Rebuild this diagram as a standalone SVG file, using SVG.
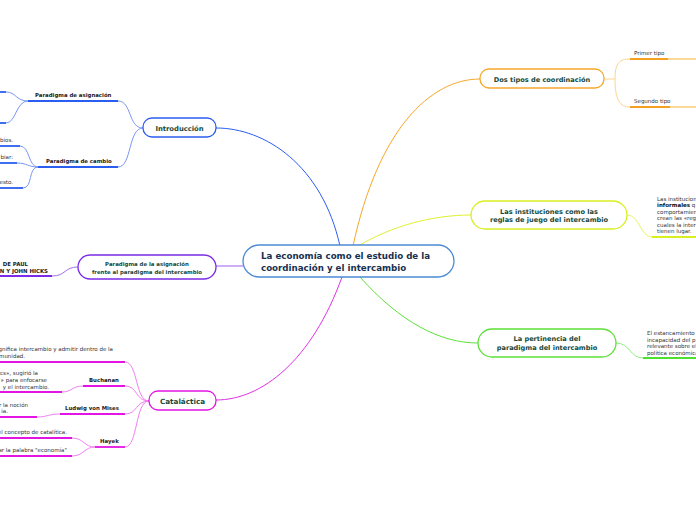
<svg xmlns="http://www.w3.org/2000/svg" width="696" height="520" viewBox="0 0 696 520">
<style>
text{font-family:"DejaVu Sans","Verdana",sans-serif}
.c{font-size:8.7px;font-weight:bold;fill:#17304f}
.n{font-size:6.8px;font-weight:bold;fill:#174a3c;text-anchor:middle}
.s{font-size:5.4px;font-weight:bold;fill:#222}
.t{font-size:5.5px;fill:#333}
.e{text-anchor:end}
.cv{fill:none;stroke-width:1}
.ul{fill:none;stroke-width:1.8}
.box{fill:#fff;stroke-width:1.3}
</style>
<rect width="696" height="520" fill="#fff"/>
<g id="connectors">
  <path class="cv" d="M340,246 C322,165 265,128 216,128" stroke="#2a5ef0" stroke-width="1.4"/>
  <path class="cv" d="M353,246 C378,130 430,79 480,79" stroke="#f5a82a" stroke-width="1.4"/>
  <path class="cv" d="M358,246 C392,226 432,215 471,215" stroke="#e0f030" stroke-width="1.4"/>
  <path class="cv" d="M360,277 C400,322 440,343 478,343" stroke="#5ee03a" stroke-width="1.4"/>
  <path class="cv" d="M342,277 C312,360 262,400 216,400" stroke="#e030e8" stroke-width="1.4"/>
  <path class="cv" d="M243,266 L216,266" stroke="#9a60f0" stroke-width="1.4"/>
  <g stroke="#7898f4">
    <path class="cv" d="M143,128 C128,128 132,101 118,101"/>
    <path class="cv" d="M143,128 C128,128 132,167 118,167"/>
    <path class="cv" d="M28,101 C16,101 16,92 6,92"/>
    <path class="cv" d="M28,101 C16,101 16,123 6,123"/>
    <path class="cv" d="M38,167 C28,167 30,146 20,146"/>
    <path class="cv" d="M38,167 C28,167 27,163 17,163"/>
    <path class="cv" d="M38,167 C28,167 33,188 23,188"/>
  </g>
  <g stroke="#2a5ef0">
    <path class="ul" d="M28,101 H118"/>
    <path class="ul" d="M38,167 H118"/>
    <path class="ul" d="M0,92 H6"/>
    <path class="ul" d="M0,123 H6"/>
    <path class="ul" d="M0,146 H20"/>
    <path class="ul" d="M0,163 H17"/>
    <path class="ul" d="M0,188 H23"/>
  </g>
  <path class="cv" d="M78,267 C64,267 66,276 52,276" stroke="#a070f0"/>
  <path class="ul" d="M0,276 H52" stroke="#7a2ae8"/>
  <g stroke="#f080f0">
    <path class="cv" d="M149,401 C135,401 138,362 125,362"/>
    <path class="cv" d="M149,401 C135,401 138,386 125,386"/>
    <path class="cv" d="M149,401 C135,401 138,414 125,414"/>
    <path class="cv" d="M149,401 C135,401 138,447 125,447"/>
    <path class="cv" d="M83,386 C72,386 72,392 62,392"/>
    <path class="cv" d="M60,414 C48,414 48,417 37,417"/>
    <path class="cv" d="M95,447 C84,447 84,438 72,438"/>
    <path class="cv" d="M95,447 C84,447 84,456 72,456"/>
  </g>
  <g stroke="#e414e4">
    <path class="ul" d="M0,362 H125"/>
    <path class="ul" d="M83,386 H125"/>
    <path class="ul" d="M60,414 H125"/>
    <path class="ul" d="M95,447 H125"/>
    <path class="ul" d="M0,392 H62"/>
    <path class="ul" d="M0,417 H37"/>
    <path class="ul" d="M0,438 H72"/>
    <path class="ul" d="M0,456 H72"/>
  </g>
  <g stroke="#fcd490">
    <path class="cv" d="M605,79 H615"/>
    <path class="cv" d="M615,79 C615,62 620,59 630,59"/>
    <path class="cv" d="M615,79 C615,100 620,107 630,107"/>
    <path class="ul" d="M668,59 H696"/>
    <path class="ul" d="M670,107 H696"/>
  </g>
  <path class="ul" d="M630,59 H668" stroke="#f5a020"/>
  <path class="ul" d="M630,107 H670" stroke="#f5a020"/>
  <path class="cv" d="M627,215 C640,215 640,237 652,237" stroke="#e8f468"/>
  <path class="ul" d="M652,237 H696" stroke="#d8f020"/>
  <path class="cv" d="M616,343 C630,343 630,358 643,358" stroke="#8ef07a"/>
  <path class="ul" d="M643,358 H696" stroke="#4ee02e"/>
</g>

<g id="center">
  <rect class="box" x="243" y="245" width="211" height="32" rx="16" stroke="#4a8ad4"/>
  <text class="c" x="261" y="259">La economía como el estudio de la</text>
  <text class="c" x="261" y="270.5">coordinación y el intercambio</text>
</g>

<g id="introduccion">
  <rect class="box" x="143" y="118" width="73" height="19" rx="9" stroke="#2a5ef0"/>
  <text class="n" x="179.5" y="130.5">Introducción</text>
</g>
<g id="paradigma-asignacion">
  <text class="s" x="35" y="97">Paradigma de asignación</text>
</g>
<g id="paradigma-cambio">
  <text class="s" x="46" y="163">Paradigma de cambio</text>
  <text class="t e" x="13" y="142">bios.</text>
  <text class="t e" x="13" y="159">biar:</text>
  <text class="t e" x="13" y="184">esto.</text>
</g>

<g id="asignacion-vs-intercambio">
  <rect class="box" x="78" y="255" width="138" height="24" rx="12" stroke="#7a2ae8"/>
  <text class="n" x="147" y="265.5" style="font-size:5.4px">Paradigma de la asignación</text>
  <text class="n" x="147" y="273.5" style="font-size:5.4px">frente al paradigma del intercambio</text>
  <text class="s e" x="28" y="266">DE PAUL</text>
  <text class="s e" x="48" y="272.5">N Y JOHN HICKS</text>
</g>

<g id="catalactica">
  <rect class="box" x="149" y="391" width="67" height="19" rx="9" stroke="#e414e4"/>
  <text class="n" x="182.5" y="403.5" style="font-size:7.2px">Cataláctica</text>
  <text class="t e" x="113" y="351">gnifica intercambio y admitir dentro de la</text>
  <text class="t e" x="25" y="357.5">munidad.</text>
</g>
<g id="buchanan">
  <text class="s" x="89" y="382">Buchanan</text>
  <text class="t e" x="38" y="375">cs», sugirió la</text>
  <text class="t e" x="47" y="382">» para enfocarse</text>
  <text class="t e" x="49" y="389">y el intercambio.</text>
</g>
<g id="mises">
  <text class="s" x="65" y="410">Ludwig von Mises</text>
  <text class="t e" x="28" y="407">r la noción</text>
  <text class="t e" x="8" y="413">ia.</text>
</g>
<g id="hayek">
  <text class="s" x="100" y="443">Hayek</text>
  <text class="t e" x="67" y="434">el concepto de catalítica.</text>
  <text class="t e" x="67" y="452">ar la palabra "economía"</text>
</g>

<g id="dos-tipos">
  <rect class="box" x="480" y="69" width="124" height="19" rx="9" stroke="#f5a82a"/>
  <text class="n" x="542" y="81.5" style="font-size:6.6px">Dos tipos de coordinación</text>
  <text class="t" x="634" y="55">Primer tipo</text>
  <text class="t" x="634" y="103">Segundo tipo</text>
</g>

<g id="instituciones">
  <rect class="box" x="471" y="201" width="156" height="28" rx="14" stroke="#d8f020"/>
  <text class="n" x="549" y="213.5" style="font-size:6.6px">Las instituciones como las</text>
  <text class="n" x="549" y="222" style="font-size:6.6px">reglas de juego del intercambio</text>
  <text class="t" x="657" y="201">Las institucion</text>
  <text class="t" x="657" y="207"><tspan font-weight="bold" fill="#111">informales</tspan> q</text>
  <text class="t" x="657" y="213.5">comportamien</text>
  <text class="t" x="657" y="220">crean las «reg</text>
  <text class="t" x="657" y="226.5">cuales la inter</text>
  <text class="t" x="657" y="233">tienen lugar.</text>
</g>

<g id="pertinencia">
  <rect class="box" x="478" y="329" width="138" height="28" rx="14" stroke="#5ee03a"/>
  <text class="n" x="547" y="341" style="font-size:6.6px">La pertinencia del</text>
  <text class="n" x="547" y="350" style="font-size:6.6px">paradigma del intercambio</text>
  <text class="t" x="647" y="335">El estancamiento</text>
  <text class="t" x="647" y="341.5">incapacidad del p</text>
  <text class="t" x="647" y="348">relevante sobre el</text>
  <text class="t" x="647" y="354.5">política económica</text>
</g>
</svg>
